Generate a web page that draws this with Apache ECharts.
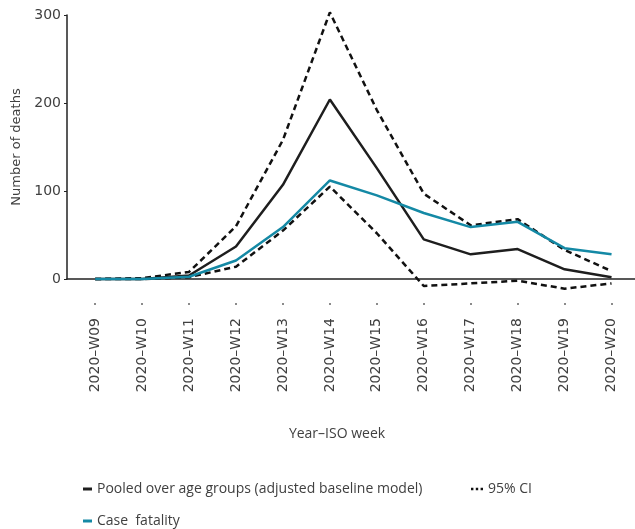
<!DOCTYPE html>
<html>
<head>
<meta charset="utf-8">
<script src="https://cdn.jsdelivr.net/npm/echarts@6/dist/echarts.min.js"></script>
<style>
  html, body { margin: 0; padding: 0; background: #fff; }
  #chart { width: 635px; height: 529px; }
</style>
</head>
<body>
<div id="chart"></div>
<script>
// ISO weeks on the x axis
const weeks = ['2020–W09', '2020–W10', '2020–W11', '2020–W12', '2020–W13', '2020–W14',
               '2020–W15', '2020–W16', '2020–W17', '2020–W18', '2020–W19', '2020–W20'];

// Excess deaths, pooled over age groups (adjusted baseline model)
const pooled = [0, 0, 4, 37, 107, 204, 126, 45, 28, 34, 11, 2];
// 95% confidence interval bounds
const ciUpper = [0, 1, 8, 60, 158, 303, 192, 97, 61, 68, 33, 9];
const ciLower = [0, 0, 2, 14, 55, 105, 52, -8, -5, -2, -11, -5];
// Deaths estimated from case fatality
const caseFatality = [0, 0, 2.5, 21, 59, 112, 95, 75, 59, 65, 35, 28];

const yTicks = [0, 100, 200, 300];

const SERIES_POOLED = 'Pooled over age groups (adjusted baseline model)';
const SERIES_CI = '95% CI';
const SERIES_CF = 'Case  fatality';

const toPairs = arr => arr.map((v, i) => [i, v]);
const weekIdx = weeks.map((_, i) => i);

const axisFont = 'DejaVu Sans';
const textFont = 'Open Sans';
const textColor = '#404040';

const chart = echarts.init(document.getElementById('chart'), null, { renderer: 'canvas' });

const dashed = { color: '#111', width: 2.5, type: [6, 4] };

chart.setOption({
  animation: false,
  backgroundColor: '#fff',
  grid: { left: 67, right: 0, top: 15, bottom: 250, containLabel: false, outerBoundsMode: 'none' },
  xAxis: [
    {
      type: 'value',
      min: -0.6,
      max: 11.5,
      name: 'Year–ISO week',
      nameLocation: 'middle',
      nameGap: 148,
      nameTextStyle: { fontFamily: textFont, fontSize: 14, color: textColor, padding: [0, 28, 0, 0] },
      axisLine: { show: true, onZero: false, lineStyle: { color: '#222', width: 1.5 } },
      axisTick: { show: false },
      splitLine: { show: false },
      axisLabel: {
        customValues: weekIdx,
        rotate: 90,
        margin: 39,
        fontFamily: axisFont,
        fontSize: 14,
        color: textColor,
        formatter: v => weeks[Math.round(v)] || ''
      }
    },
    {
      // small marker dots above each week label
      type: 'value',
      min: -0.6,
      max: 11.5,
      position: 'bottom',
      offset: 24,
      axisLine: { show: false, onZero: false },
      axisLabel: { show: false },
      splitLine: { show: false },
      axisTick: {
        show: true,
        customValues: weekIdx,
        length: 2,
        lineStyle: { color: '#666', width: 1.5 }
      }
    }
  ],
  yAxis: {
    type: 'value',
    position: 'left',
    min: 0,
    max: 300,
    interval: 100,
    name: 'Number of deaths',
    nameLocation: 'middle',
    nameGap: 44,
    nameTextStyle: { fontFamily: axisFont, fontSize: 13, color: textColor },
    axisLine: { show: true, onZero: false, lineStyle: { color: '#222', width: 1.5 } },
    axisTick: { show: true, length: 3, lineStyle: { color: '#222' } },
    splitLine: { show: false },
    axisLabel: {
      customValues: yTicks,
      margin: 6,
      fontFamily: axisFont,
      fontSize: 14,
      color: textColor
    }
  },
  legend: [
    {
      left: 78, top: 477,
      data: [{ name: SERIES_POOLED, icon: 'rect' }],
      itemWidth: 9, itemHeight: 3, itemGap: 10,
      textStyle: { fontFamily: textFont, fontSize: 14, color: textColor },
      selectedMode: false
    },
    {
      left: 466, top: 477,
      data: [{ name: SERIES_CI, icon: 'path://M0,0h2v2h-2zM4,0h2v2h-2zM8,0h2v2h-2z' }],
      itemWidth: 12, itemHeight: 3, itemGap: 10,
      textStyle: { fontFamily: textFont, fontSize: 14, color: textColor },
      selectedMode: false
    },
    {
      left: 78, top: 509,
      data: [{ name: SERIES_CF, icon: 'rect' }],
      itemWidth: 9, itemHeight: 3, itemGap: 10,
      textStyle: { fontFamily: textFont, fontSize: 14, color: textColor },
      selectedMode: false
    }
  ],
  series: [
    {
      name: SERIES_CI, type: 'line', data: toPairs(ciUpper),
      symbol: 'none', clip: false, lineStyle: dashed, itemStyle: { color: '#111' }
    },
    {
      name: SERIES_CI, type: 'line', data: toPairs(ciLower),
      symbol: 'none', clip: false, lineStyle: dashed, itemStyle: { color: '#111' }
    },
    {
      name: SERIES_POOLED, type: 'line', data: toPairs(pooled),
      symbol: 'none', clip: false,
      lineStyle: { color: '#1e1e1e', width: 2.5 }, itemStyle: { color: '#1e1e1e' }
    },
    {
      name: SERIES_CF, type: 'line', data: toPairs(caseFatality),
      symbol: 'none', clip: false,
      lineStyle: { color: '#1489a5', width: 2.5 }, itemStyle: { color: '#1489a5' }
    }
  ]
});
</script>
</body>
</html>
